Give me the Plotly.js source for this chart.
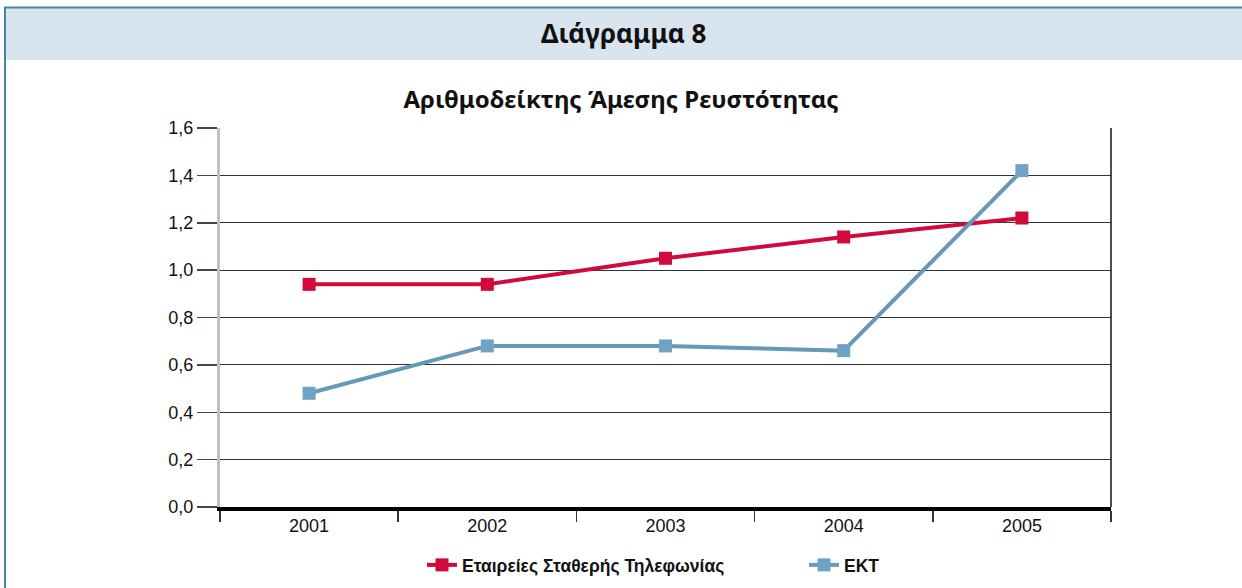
<!DOCTYPE html>
<html>
<head>
<meta charset="utf-8">
<script src="https://cdn.plot.ly/plotly-3.0.1.min.js"></script>
<style>html,body{margin:0;padding:0;background:#fff;}#chart{width:1242px;height:588px;}</style>
</head>
<body>
<div id="chart"></div>
<script>
const years = ["2001", "2002", "2003", "2004", "2005"];
const fixedTelephony = [0.94, 0.94, 1.05, 1.14, 1.22];
const ekt = [0.48, 0.68, 0.68, 0.66, 1.42];
const seriesNames = ["Εταιρείες Σταθερής Τηλεφωνίας", "ΕΚΤ"];
const headerText = "Διάγραμμα 8";
const chartTitle = "Αριθμοδείκτης Άμεσης Ρευστότητας";

const tickFontFamily = "Liberation Sans, Arial, sans-serif";
const boldFont = "Noto Sans, Open Sans, DejaVu Sans, sans-serif";

const traces = [
  {
    x: years, y: fixedTelephony, name: "<b>" + seriesNames[0] + "</b>", type: "scatter", mode: "lines+markers",
    line: {color: "#d20a3c", width: 4},
    marker: {symbol: "square", size: 13, color: "#d20a3c"}
  },
  {
    x: years, y: ekt, name: "<b>" + seriesNames[1] + "</b>", type: "scatter", mode: "lines+markers",
    line: {color: "#6699b5", width: 4},
    marker: {symbol: "square", size: 13, color: "#6fa3c4"}
  }
];

// plot area: x 220..1111, y 128..507
const L = 220, R = 1111, T = 128, B = 507, W = R - L, H = B - T;
const px = v => (v - L) / W;
const py = v => (B - v) / H;

const layout = {
  width: 1242, height: 588,
  margin: {l: L, r: 1242 - R, t: T, b: 588 - B, autoexpand: false},
  paper_bgcolor: "#ffffff", plot_bgcolor: "#ffffff",
  separators: ",.",
  showlegend: true,
  title: {
    text: "<b>" + chartTitle + "</b>",
    font: {family: boldFont, size: 24, color: "#111"},
    x: 0.5, xanchor: "center", y: 1 - 100 / 588, yanchor: "middle"
  },
  xaxis: {
    type: "category", range: [-0.5, 4.5],
    tickson: "boundaries", ticks: "outside", ticklen: 11, tickwidth: 1.5, tickcolor: "#333",
    showline: true, linecolor: "#000", linewidth: 3.5,
    showgrid: false, zeroline: false,
    tickfont: {family: tickFontFamily, size: 18, color: "#111"}
  },
  yaxis: {
    range: [0, 1.6], dtick: 0.2, tick0: 0, tickformat: ".1f",
    ticks: "outside", ticklen: 20, tickwidth: 1.5, tickcolor: "#444",
    showgrid: true, gridcolor: "#333", gridwidth: 1.2,
    showline: true, linecolor: "#c0c0c0", linewidth: 3,
    zeroline: false,
    tickfont: {family: tickFontFamily, size: 18, color: "#111"}
  },
  legend: {
    orientation: "h", x: px(422), xanchor: "left", y: py(565), yanchor: "middle",
    font: {family: tickFontFamily, size: 17.5, color: "#111"},
    entrywidth: 337, entrywidthmode: "pixels",
    bgcolor: "rgba(0,0,0,0)"
  },
  shapes: [
    {type: "rect", xref: "paper", yref: "paper", x0: px(5), x1: px(1250), y0: py(60), y1: py(8),
     fillcolor: "#d8e4ee", line: {width: 0}, layer: "below"},
    {type: "line", xref: "paper", yref: "paper", x0: px(4), x1: px(1250), y0: py(7.5), y1: py(7.5),
     line: {color: "#4a86a0", width: 2}},
    {type: "line", xref: "paper", yref: "paper", x0: px(5), x1: px(5), y0: py(7), y1: py(600),
     line: {color: "#4a86a0", width: 2}},
    {type: "line", xref: "paper", yref: "paper", x0: 1, x1: 1, y0: 0, y1: 1,
     line: {color: "#111", width: 1.5}}
  ],
  annotations: [
    {text: "<b>" + headerText + "</b>", xref: "paper", yref: "paper", x: px(623), y: py(33),
     xanchor: "center", yanchor: "middle", showarrow: false,
     font: {family: boldFont, size: 26, color: "#111"}}
  ]
};

Plotly.newPlot("chart", traces, layout, {displayModeBar: false, staticPlot: true});
</script>
</body>
</html>
